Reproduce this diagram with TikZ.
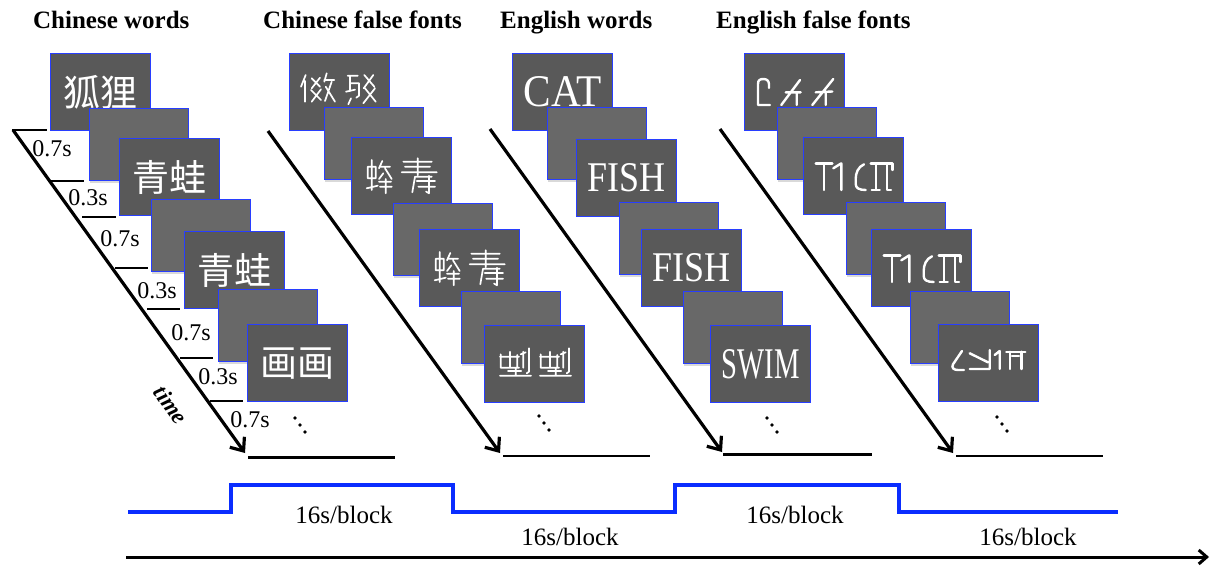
\documentclass[tikz,border=0pt]{standalone}
\usepackage{fontspec}
\setmainfont{Liberation Serif}
\newfontfamily\cjkfont{Noto Sans CJK SC}
\usepackage{graphicx}
\usetikzlibrary{arrows.meta,shadows}

\definecolor{wordgray}{RGB}{89,89,89}
\definecolor{blankgray}{RGB}{104,104,104}
\definecolor{edgeblue}{RGB}{40,62,255}
\definecolor{signalblue}{RGB}{10,45,255}

\tikzset{
  wordbox/.style={draw=edgeblue, line width=1.4pt, fill=wordgray, minimum width=100pt,
    minimum height=77pt, inner sep=0pt, anchor=north west, text=white},
  blankbox/.style={draw=edgeblue, line width=1.4pt, fill=blankgray, minimum width=99pt,
    minimum height=72pt, inner sep=0pt, anchor=north west,
    drop shadow={shadow xshift=0.5pt, shadow yshift=-2pt, opacity=0.3}},
  timearrow/.style={line width=3.2pt, -{Straight Barb[length=11pt,width=18pt]}},
  axisarrow/.style={line width=3pt, -{Straight Barb[length=8pt,width=14pt]}},
  durtick/.style={line width=1.6pt},
  floorline/.style={line width=2.4pt},
  signal/.style={signalblue, line width=4.5pt},
  durlabel/.style={font=\fontsize{24}{26}\selectfont, inner sep=0pt},
  blocklabel/.style={font=\fontsize{25}{28}\selectfont, inner sep=0pt},
  headtitle/.style={font=\fontsize{25}{28}\selectfont\bfseries, anchor=base west, inner sep=0pt},
  timelabel/.style={font=\fontsize{23}{26}\selectfont\bfseries\itshape, inner sep=0pt, rotate=-54.3},
  cnword/.style={font=\cjkfont\fontsize{37}{40}\selectfont},
  cnglyph/.style={white, line width=1.7pt, line cap=round, line join=round},
  englyph/.style={white, line width=2.4pt, line cap=round, line join=round},
  ellipsisdot/.style={fill=black, draw=none},
}

% pseudo-characters of the Chinese false font
\newcommand\ffCnFirst{%
  \draw[cnglyph] (16.7,22)--(12,33.7) (16,28)--(16,48.7)
    (22.7,25.3)--(31,33.7) (31,24.7)--(22.7,35.3)
    (22,37)--(32,47) (32,36.3)--(22.7,48.7)
    (37.7,20.3)--(35.3,28.7) (35.3,27)--(45.3,27)
    (42.7,28.7)--(36,48) (36.7,33.7)--(46,48.7);
  \draw[cnglyph] (58.7,22.7)--(68.7,22.7) (61,22.7)--(61,38) (61,30.3)--(70,30.3)
    (70,30.3)--(70,42.7)--(67.3,44.7) (57,38.7)--(66,36.7)
    (75.3,22)--(85.3,33.7) (84.3,22)--(74.7,35.3)
    (76,35.3)--(86.7,48.7) (86,35.3)--(74.3,50.3)
    (62,45.3)--(59.3,51.3);
}
\newcommand\ffCnSecond{%
  \draw[cnglyph] (16.7,29.7) rectangle (24.7,41.3)
    (20.7,23)--(20.7,53) (15.7,51.3)--(26.7,48.7)
    (31.3,24)--(28,31.3) (29,29.7)--(39,29.7) (34,31.3)--(40.7,42)
    (32.3,36.3)--(28,42) (28,44.7)--(40,44.7) (29,49.7)--(40.7,49.7)
    (34.7,42)--(34.7,56.3);
  \draw[cnglyph] (52.3,24.7)--(80.7,24.7) (54,29.7)--(79,29.7) (50.7,35.3)--(85.7,35.3)
    (66.7,21.3)--(66.7,38) (64,39.7)--(61.3,55.3) (64.7,39.7)--(80.7,39.7)
    (65.7,44)--(84,44) (67.3,49.7)--(84,49.7) (78,38.7)--(78,56.3)--(75,54.5);
}
\newcommand\ffCnThirdPart{%
  \draw[cnglyph] (16.7,29.3)--(16.7,42.7)--(35,42.7) (16,31.7)--(35,31.7)
    (26,26.7)--(26,42.7) (33.3,30)--(33.3,42.7) (24,46)--(37.3,46)
    (16,50.7)--(47,50.7) (31.7,42.7)--(31.7,50.7)
    (39.3,26.7)--(39.3,42.7) (45,23.3)--(45,46.7)--(42.7,48.3)
    (36.7,29.3)--(41.7,27.3);
}
% pseudo-letters of the English false font
\newcommand\ffEnFirst{%
  \draw[englyph] (26,52)--(14,52)--(14,31) .. controls (14,27) and (16,26) .. (19.5,26)
    .. controls (23,26) and (25,28) .. (25,31.5)--(25,35);
  \draw[englyph] (37.3,52)--(56,27) (41.7,39.3)--(56.7,39.3) (52.7,39.3)--(52.7,52);
  \draw[englyph] (68.3,52)--(89.3,26) (71.7,39.3)--(88.3,38.5) (81.7,38.8)--(81.7,52);
}
\newcommand\ffEnSecond{%
  \draw[englyph] (12.7,26.3)--(29.3,26.3) (21,26.3)--(21,53);
  \draw[englyph] (30.3,31.3)--(38.3,26.3)--(38.3,53);
  \draw[englyph] (61,27.3) .. controls (55,30) and (52.7,36) .. (52.7,42)--(52.7,47)
    .. controls (52.7,51) and (56,53) .. (62.7,53);
  \draw[englyph] (67.7,26.3)--(89.3,26.3)--(89.3,33) (72.7,26.3)--(72.7,53)
    (68.7,53)--(76.7,53) (83.7,26.3)--(83.7,53)--(88,53);
}
\newcommand\ffEnThird{%
  \draw[englyph] (24,27)--(15,40.3) .. controls (13,44) and (16,46) .. (20,46)--(26,46);
  \draw[englyph] (31.7,29.3)--(50,38.3) (51.7,26)--(51.7,45)--(31.7,45);
  \draw[englyph] (56.7,31)--(61.7,27)--(61.7,45);
  \draw[englyph] (68.3,27.7)--(87.3,27.7) (71.7,27.7)--(71.7,45) (83.3,27.7)--(83.3,45)
    (74,32)--(81,32);
}

\begin{document}
\begin{tikzpicture}[x=1pt, y=-1pt]
\useasboundingbox (0,0) rectangle (1211,568);

% column headings
\node[headtitle] (h1) at (33,28.5) {Chinese words};
\node[headtitle] (h2) at (263,28.5) {Chinese false fonts};
\node[headtitle] (h3) at (500,28.5) {English words};
\node[headtitle] (h4) at (716,28.5) {English false fonts};

% ---------- Chinese words ----------
\node[wordbox, cnword] (c1b1) at (50,53) {狐狸};
\node[blankbox] (c1b2) at (89,108) {};
\node[wordbox, cnword] (c1b3) at (119,138) {青蛙};
\node[blankbox] (c1b4) at (151,199) {};
\node[wordbox, cnword] (c1b5) at (184,231) {青蛙};
\node[blankbox] (c1b6) at (218,289) {};
\node[wordbox, cnword] (c1b7) at (247,324) {画画};

% ---------- Chinese false fonts ----------
\node[wordbox] (c2b1) at (289,53) {};
\begin{scope}[shift={(c2b1.north west)}]\ffCnFirst\end{scope}
\node[blankbox] (c2b2) at (324,107) {};
\node[wordbox] (c2b3) at (351,137) {};
\begin{scope}[shift={(c2b3.north west)}]\ffCnSecond\end{scope}
\node[blankbox] (c2b4) at (393,203) {};
\node[wordbox] (c2b5) at (419,229) {};
\begin{scope}[shift={(c2b5.north west)}]\ffCnSecond\end{scope}
\node[blankbox] (c2b6) at (461,291) {};
\node[wordbox] (c2b7) at (484,325) {};
\begin{scope}[shift={(c2b7.north west)}]\ffCnThirdPart\end{scope}
\begin{scope}[shift={(c2b7.north west)}, xshift=40pt]\ffCnThirdPart\end{scope}

% ---------- English words ----------
\node[wordbox] (c3b1) at (512,53) {\resizebox{78pt}{30pt}{CAT}};
\node[blankbox] (c3b2) at (547,107) {};
\node[wordbox] (c3b3) at (576,139) {\resizebox{78pt}{28pt}{FISH}};
\node[blankbox] (c3b4) at (619,202) {};
\node[wordbox] (c3b5) at (641,229) {\resizebox{78pt}{28pt}{FISH}};
\node[blankbox] (c3b6) at (683,291) {};
\node[wordbox] (c3b7) at (710,325) {\resizebox{78pt}{29pt}{SWIM}};

% ---------- English false fonts ----------
\node[wordbox] (c4b1) at (744,53) {};
\begin{scope}[shift={(c4b1.north west)}]\ffEnFirst\end{scope}
\node[blankbox] (c4b2) at (777,107) {};
\node[wordbox] (c4b3) at (803,137) {};
\begin{scope}[shift={(c4b3.north west)}]\ffEnSecond\end{scope}
\node[blankbox] (c4b4) at (846,202) {};
\node[wordbox] (c4b5) at (871,229) {};
\begin{scope}[shift={(c4b5.north west)}]\ffEnSecond\end{scope}
\node[blankbox] (c4b6) at (910,291) {};
\node[wordbox] (c4b7) at (938,324) {};
\begin{scope}[shift={(c4b7.north west)}]\ffEnThird\end{scope}

% ---------- time arrows ----------
\coordinate (ts1) at (13,130);  \coordinate (te1) at (245,453);
\coordinate (ts2) at (268,131); \coordinate (te2) at (500,453);
\coordinate (ts3) at (490,129); \coordinate (te3) at (722,452);
\coordinate (ts4) at (720,129); \coordinate (te4) at (953,453);
\draw[timearrow] (ts1) -- (te1);
\draw[timearrow] (ts2) -- (te2);
\draw[timearrow] (ts3) -- (te3);
\draw[timearrow] (ts4) -- (te4);

% ticks and durations along the first time axis
\draw[durtick] (12,130) -- (47,130);
\draw[durtick] (51,181) -- (84,181);
\draw[durtick] (82,217) -- (116,217);
\draw[durtick] (115,268) -- (148,268);
\draw[durtick] (147,309) -- (180,309);
\draw[durtick] (180,358) -- (213,358);
\draw[durtick] (210,401) -- (243,401);
\node[durlabel] (d1) at (52,149) {0.7s};
\node[durlabel] (d2) at (88,198) {0.3s};
\node[durlabel] (d3) at (120,239) {0.7s};
\node[durlabel] (d4) at (157,291) {0.3s};
\node[durlabel] (d5) at (191,333) {0.7s};
\node[durlabel] (d6) at (218,377) {0.3s};
\node[durlabel] (d7) at (250,420) {0.7s};
\node[timelabel] (tl) at (171,405) {time};

% continuation dots
\foreach \c/\x/\y in {1/295/418, 2/539/416, 3/767/418, 4/997/417}{
  \fill[ellipsisdot] (\x,\y) circle (1.9pt);
  \fill[ellipsisdot] (\x+5,\y+7) circle (1.9pt);
  \fill[ellipsisdot] (\x+10,\y+14) circle (1.9pt);
}

% closing lines under each sequence
\draw[floorline] (248,457.5) -- (395,457.5);
\draw[floorline] (503,456) -- (650,456);
\draw[floorline] (723,454.5) -- (872,454.5);
\draw[floorline] (956,456) -- (1103,456);

% block design
\draw[signal] (128,512) -- (231,512) -- (231,485) -- (453,485) -- (453,512)
  -- (675,512) -- (675,485) -- (899,485) -- (899,512) -- (1118,512);
\node[blocklabel] (bl1) at (344,515) {16s/block};
\node[blocklabel] (bl2) at (570,537) {16s/block};
\node[blocklabel] (bl3) at (795,515) {16s/block};
\node[blocklabel] (bl4) at (1028,537) {16s/block};

\coordinate (ax0) at (126,557);
\coordinate (ax1) at (1209,557);
\draw[axisarrow] (ax0) -- (ax1);
\end{tikzpicture}
\end{document}
